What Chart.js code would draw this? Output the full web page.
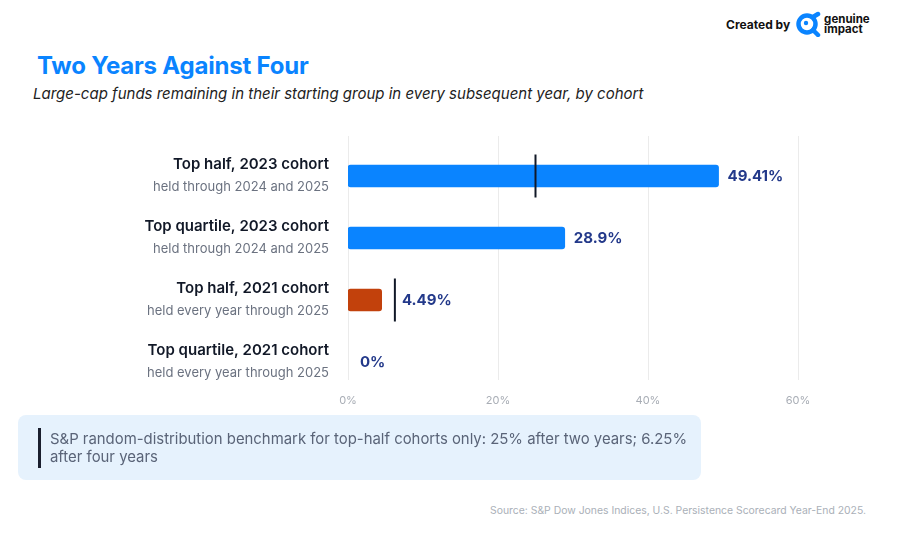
<!DOCTYPE html>
<html>
<head>
<meta charset="utf-8">
<script src="https://cdn.jsdelivr.net/npm/chart.js@4"></script>
<style>
  body { margin: 0; background: #fff; font-family: Inter, "Noto Sans", sans-serif; }
  #page { position: relative; width: 900px; height: 539px; overflow: hidden; }
  #title { position: absolute; left: 37px; top: 51px; font-size: 24px; font-weight: 700; color: #0a84ff; letter-spacing: -0.2px; }
  #subtitle { position: absolute; left: 33px; top: 84px; font-size: 15px; font-style: italic; color: #222; }
  #brand { position: absolute; left: 726px; top: 11px; display: flex; align-items: center; font-weight: 700; color: #111; }
  #brand .by { font-size: 12px; margin-right: 5px; }
  #brand .name { font-size: 11.5px; line-height: 10px; margin-left: 3px; }
  #wrap { position: absolute; left: 0; top: 120px; width: 900px; height: 300px; }
  #note { position: absolute; left: 18px; top: 415px; width: 683px; height: 65px; background: #e6f2fd; border-radius: 8px; }
  #note .bar { position: absolute; left: 20px; top: 13px; width: 3px; height: 40px; background: #1a1f2e; }
  #note .txt { position: absolute; left: 32px; top: 15px; width: 650px; font-size: 14.9px; line-height: 18px; color: #5a6478; }
  #source { position: absolute; right: 34px; top: 504px; font-size: 10.4px; color: #aab0b8; }
</style>
</head>
<body>
<div id="page">
  <div id="brand">
    <span class="by">Created by</span>
    <svg width="26" height="26" viewBox="0 0 26 26">
      <circle cx="12" cy="13" r="8.5" fill="none" stroke="#0a84ff" stroke-width="4.5"/>
      <circle cx="11" cy="12" r="2.2" fill="#0a84ff"/>
      <path d="M18 6 L23 3 M18 19 L23 24" stroke="#0a84ff" stroke-width="4.5" stroke-linecap="round"/>
    </svg>
    <span class="name">genuine<br>impact</span>
  </div>
  <div id="title">Two Years Against Four</div>
  <div id="subtitle">Large-cap funds remaining in their starting group in every subsequent year, by cohort</div>
  <div id="wrap"><canvas id="chart"></canvas></div>
  <div id="note"><div class="bar"></div><div class="txt">S&amp;P random-distribution benchmark for top-half cohorts only: 25% after two years; 6.25% after four years</div></div>
  <div id="source">Source: S&amp;P Dow Jones Indices, U.S. Persistence Scorecard Year-End 2025.</div>
</div>
<script>
var cohorts = ['Top half, 2023 cohort', 'Top quartile, 2023 cohort', 'Top half, 2021 cohort', 'Top quartile, 2021 cohort'];
var cohortNotes = ['held through 2024 and 2025', 'held through 2024 and 2025', 'held every year through 2025', 'held every year through 2025'];
var persistence = [49.41, 28.9, 4.49, 0];
var benchmark = [25, null, 6.25, null];
var xTicks = [0, 20, 40, 60];

var barColors = ['#0a84ff', '#0a84ff', '#c2410c', '#c2410c'];

// vertical grid lines, a bit taller than the plot like the original
var gridPlugin = {
  id: 'gridLines',
  beforeDatasetsDraw: function (chart) {
    var ctx = chart.ctx, area = chart.chartArea, x = chart.scales.x;
    ctx.save();
    ctx.strokeStyle = '#ebebeb';
    ctx.lineWidth = 1;
    xTicks.forEach(function (t) {
      var px = Math.round(x.getPixelForValue(t)) + 0.5;
      ctx.beginPath();
      ctx.moveTo(px, area.top - 9);
      ctx.lineTo(px, area.bottom - 13);
      ctx.stroke();
    });
    ctx.restore();
  }
};

// two-line category labels, benchmark markers and value labels
var labelPlugin = {
  id: 'labels',
  afterDatasetsDraw: function (chart) {
    var ctx = chart.ctx, x = chart.scales.x, y = chart.scales.y, area = chart.chartArea;
    ctx.save();
    cohorts.forEach(function (c, i) {
      var cy = y.getPixelForValue(i);
      ctx.textAlign = 'right';
      ctx.textBaseline = 'middle';
      ctx.fillStyle = '#111827';
      ctx.font = '600 15px Inter';
      ctx.fillText(c, area.left - 19, cy - 12);
      ctx.fillStyle = '#6b7280';
      ctx.font = '13px Inter';
      ctx.fillText(cohortNotes[i], area.left - 19, cy + 11);

      var end = x.getPixelForValue(persistence[i]);
      var gap = 9;
      if (benchmark[i] != null) {
        var bx = x.getPixelForValue(benchmark[i]);
        ctx.strokeStyle = '#111827';
        ctx.lineWidth = 2;
        ctx.beginPath();
        ctx.moveTo(bx, cy - 21.5);
        ctx.lineTo(bx, cy + 21.5);
        ctx.stroke();
        if (bx > end) { end = bx; gap = 7; }
      }
      if (persistence[i] === 0) gap = 12;
      ctx.textAlign = 'left';
      ctx.fillStyle = '#23398a';
      ctx.font = '700 15px Inter';
      ctx.fillText(persistence[i] + '%', end + gap, cy);
    });
    ctx.restore();
  }
};

new Chart(document.getElementById('chart'), {
  type: 'bar',
  data: {
    labels: cohorts,
    datasets: [{
      data: persistence,
      backgroundColor: persistence.map(function (v, i) { return v === 0 ? 'rgba(0,0,0,0)' : barColors[i]; }),
      barThickness: 22,
      borderRadius: 3,
      borderSkipped: false
    }]
  },
  options: {
    indexAxis: 'y',
    responsive: true,
    maintainAspectRatio: false,
    animation: false,
    layout: { padding: { left: 348, right: 102, top: 25, bottom: 0 } },
    plugins: { legend: { display: false }, tooltip: { enabled: false } },
    scales: {
      x: {
        min: 0, max: 60,
        grid: { display: false, drawTicks: false, tickLength: 0 },
        border: { display: false },
        afterBuildTicks: function (s) { s.ticks = xTicks.map(function (v) { return { value: v }; }); },
        afterFit: function (s) { s.height = 27; },
        ticks: {
          padding: 1,
          color: '#a8adb5',
          font: { family: 'Inter', size: 11 },
          callback: function (v) { return v + '%'; }
        }
      },
      y: { display: false }
    }
  },
  plugins: [gridPlugin, labelPlugin]
});
</script>
</body>
</html>
